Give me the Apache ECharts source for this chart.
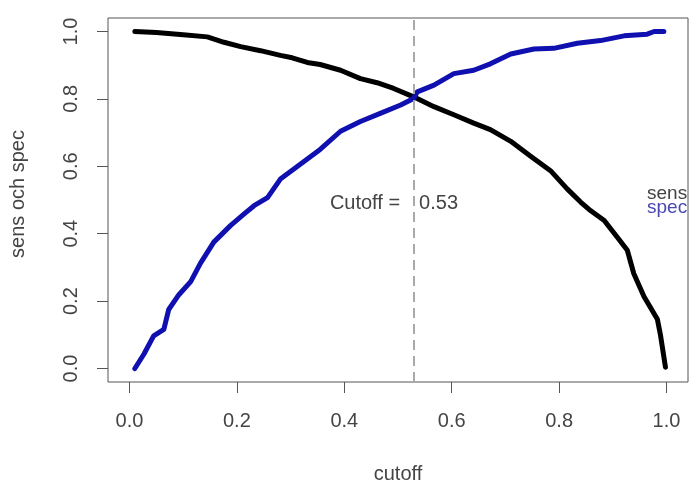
<!DOCTYPE html>
<html>
<head>
<meta charset="utf-8">
<script src="https://cdn.jsdelivr.net/npm/echarts@6/dist/echarts.min.js"></script>
<style>
html,body{margin:0;padding:0;background:#fff;}
#chart{width:689px;height:489px;}
</style>
</head>
<body>
<div id="chart"></div>
<script>
// ---- data ----
const sensCutoff = [0.01, 0.05, 0.10, 0.145, 0.176, 0.207, 0.244, 0.281, 0.303, 0.331, 0.355, 0.393, 0.430, 0.461, 0.492, 0.529, 0.567, 0.604, 0.641, 0.672, 0.710, 0.747, 0.784, 0.815, 0.840, 0.859, 0.884, 0.908, 0.927, 0.939, 0.958, 0.983, 0.989, 0.998];
const sensValues = [1.0, 0.997, 0.990, 0.984, 0.968, 0.955, 0.943, 0.929, 0.922, 0.908, 0.902, 0.885, 0.860, 0.848, 0.831, 0.806, 0.777, 0.753, 0.728, 0.709, 0.674, 0.630, 0.587, 0.533, 0.494, 0.468, 0.439, 0.390, 0.351, 0.282, 0.214, 0.146, 0.097, 0.004];
const specCutoff = [0.01, 0.027, 0.045, 0.064, 0.073, 0.092, 0.114, 0.132, 0.157, 0.188, 0.213, 0.232, 0.257, 0.281, 0.318, 0.355, 0.393, 0.430, 0.467, 0.505, 0.529, 0.536, 0.567, 0.604, 0.641, 0.672, 0.710, 0.753, 0.790, 0.834, 0.877, 0.921, 0.964, 0.977, 0.995];
const specValues = [0.0, 0.043, 0.097, 0.116, 0.175, 0.219, 0.258, 0.312, 0.375, 0.424, 0.458, 0.483, 0.507, 0.562, 0.606, 0.650, 0.704, 0.733, 0.757, 0.782, 0.801, 0.821, 0.841, 0.875, 0.885, 0.904, 0.933, 0.948, 0.950, 0.965, 0.973, 0.987, 0.992, 1.0, 1.0];
const xTicks = [0, 0.2, 0.4, 0.6, 0.8, 1.0];
const yTicks = [0, 0.2, 0.4, 0.6, 0.8, 1.0];
const cutoff = 0.53;
const cutoffLabelY = 0.49;
const seriesNames = ['sens', 'spec'];

const FONT = '"Liberation Sans", Arial, sans-serif';
const TXT = '#444';
const chart = echarts.init(document.getElementById('chart'), null, {renderer: 'canvas'});

const axisCommon = {
  type: 'value', min: -0.04, max: 1.04,
  splitLine: {show: false},
  axisLine: {show: false, onZero: false},
  axisTick: {show: true, inside: false, length: 11, lineStyle: {color: '#555', width: 1}},
  axisLabel: {fontFamily: FONT, fontSize: 20, color: TXT, formatter: v => v.toFixed(1)}
};

chart.setOption({
  animation: false,
  backgroundColor: '#fff',
  grid: {left: 107, top: 18, right: 1, bottom: 101, show: true, borderColor: '#555', borderWidth: 1, containLabel: false},
  xAxis: Object.assign({}, axisCommon, {
    name: 'cutoff', nameLocation: 'middle', nameGap: 82,
    nameTextStyle: {fontFamily: FONT, fontSize: 20, color: TXT},
    axisTick: Object.assign({}, axisCommon.axisTick, {customValues: xTicks}),
    axisLabel: Object.assign({}, axisCommon.axisLabel, {customValues: xTicks, margin: 29})
  }),
  yAxis: Object.assign({}, axisCommon, {
    name: 'sens och spec', nameLocation: 'middle', nameGap: 80,
    nameTextStyle: {fontFamily: FONT, fontSize: 20, color: TXT, padding: [0, 0, 0, 12]},
    axisTick: Object.assign({}, axisCommon.axisTick, {customValues: yTicks}),
    axisLabel: Object.assign({}, axisCommon.axisLabel, {customValues: yTicks, margin: 27, rotate: 90})
  }),
  series: [
    {
      name: seriesNames[0], type: 'line', showSymbol: false, symbol: 'none',
      data: sensCutoff.map((x, i) => [x, sensValues[i]]),
      lineStyle: {color: '#000', width: 5, cap: 'round', join: 'round'},
      z: 3,
      markLine: {
        silent: true, symbol: 'none', label: {show: false},
        lineStyle: {color: '#aaa', width: 2, type: [10, 6]},
        data: [{xAxis: cutoff}]
      }
    },
    {
      name: seriesNames[1], type: 'line', showSymbol: false, symbol: 'none',
      data: specCutoff.map((x, i) => [x, specValues[i]]),
      lineStyle: {color: '#1010b0', width: 5, cap: 'round', join: 'round'},
      z: 3
    }
  ]
});

const p = chart.convertToPixel({gridIndex: 0}, [cutoff, cutoffLabelY]);
chart.setOption({
  graphic: [
    {type: 'text', x: p[0] - 14, y: p[1], style: {text: 'Cutoff =', fontFamily: FONT, fontSize: 20, fill: TXT, align: 'right', verticalAlign: 'middle'}},
    {type: 'text', x: p[0] + 5, y: p[1], style: {text: cutoff.toFixed(2), fontFamily: FONT, fontSize: 20, fill: TXT, align: 'left', verticalAlign: 'middle'}},
    {type: 'text', x: 647, y: 194, style: {text: seriesNames[0], fontFamily: FONT, fontSize: 19, fill: '#444', align: 'left', verticalAlign: 'middle'}},
    {type: 'text', x: 647, y: 208, style: {text: seriesNames[1], fontFamily: FONT, fontSize: 19, fill: '#4848b0', align: 'left', verticalAlign: 'middle'}}
  ]
});
</script>
</body>
</html>
